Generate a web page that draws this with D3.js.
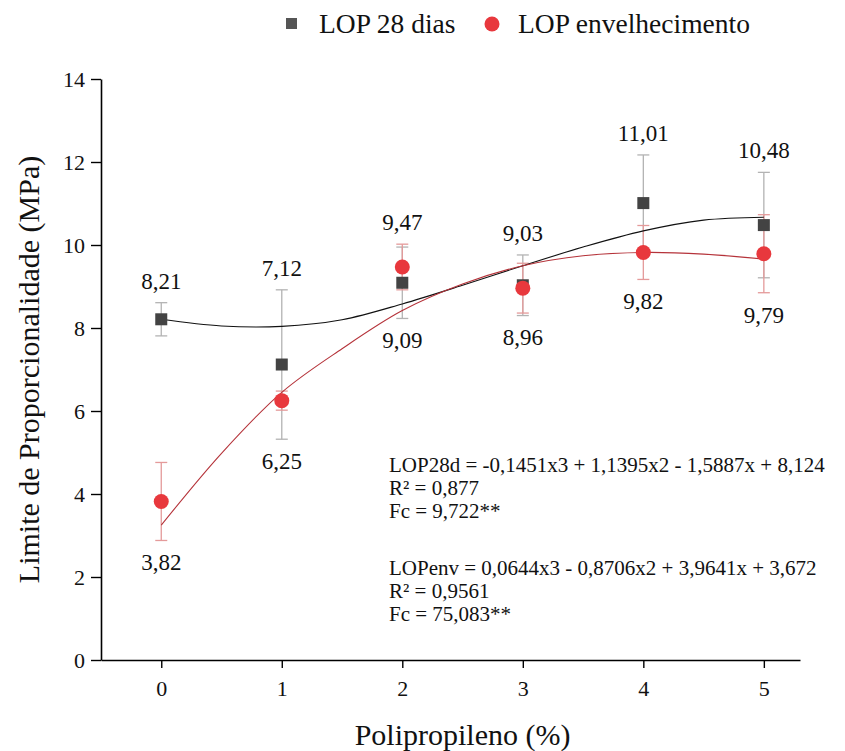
<!DOCTYPE html>
<html>
<head>
<meta charset="utf-8">
<script src="https://cdn.jsdelivr.net/npm/d3@7"></script>
<style>
  html, body { margin: 0; padding: 0; background: #fff; }
  svg text { font-family: "Liberation Serif", "Times New Roman", serif; }
</style>
</head>
<body>
<svg id="chart" width="845" height="751"></svg>
<script>
// Polypropylene content (%)
const pp = [0, 1, 2, 3, 4, 5];

// LOP after 28 days (MPa) and its standard deviation
const lop28 = [8.21, 7.12, 9.09, 9.03, 11.01, 10.48];
const lop28Err = [0.40, 1.80, 0.86, 0.73, 1.16, 1.27];
const lop28Side = ["above", "above", "below", "above", "above", "above"];

// LOP after ageing (MPa) and its standard deviation
const lopEnv = [3.82, 6.25, 9.47, 8.96, 9.82, 9.79];
const lopEnvErr = [0.94, 0.23, 0.55, 0.60, 0.65, 0.94];
const lopEnvSide = ["below", "below", "above", "below", "below", "below"];

// Trend lines, sampled every 0.5 % of polypropylene
const trendX = [0, 0.5, 1, 1.5, 2, 2.5, 3, 3.5, 4, 4.5, 5];
const trend28 = [8.21, 8.05, 8.04, 8.20, 8.58, 9.03, 9.50, 9.95, 10.34, 10.60, 10.67];
const trendEnv = [3.25, 4.98, 6.45, 7.50, 8.42, 9.06, 9.50, 9.74, 9.82, 9.78, 9.66];

const yTicks = [0, 2, 4, 6, 8, 10, 12, 14];

const eqLines28 = ["LOP28d = -0,1451x3 + 1,1395x2 - 1,5887x + 8,124", "R² = 0,877", "Fc = 9,722**"];
const eqLinesEnv = ["LOPenv = 0,0644x3 - 0,8706x2 + 3,9641x + 3,672", "R² = 0,9561", "Fc = 75,083**"];

const SERIF = "'Liberation Serif', 'Times New Roman', serif";
const fmt = v => v.toFixed(2).replace(".", ",");

const svg = d3.select("#chart");
const x = d3.scaleLinear().domain([-0.5, 5.3]).range([101, 800]);
const y = d3.scaleLinear().domain([0, 14]).range([660, 79]);

// Axes
const xAxis = svg.append("g").attr("transform", "translate(0,660)")
  .call(d3.axisBottom(x).tickValues(pp).tickFormat(d3.format("d"))
    .tickSize(8).tickPadding(12).tickSizeOuter(0));
const yAxis = svg.append("g").attr("transform", "translate(101,0)")
  .call(d3.axisLeft(y).tickValues(yTicks).tickFormat(d3.format("d"))
    .tickSize(10).tickPadding(6).tickSizeOuter(0));
[xAxis, yAxis].forEach(g => {
  g.attr("font-family", SERIF);
  g.select(".domain").attr("stroke", "#000").attr("stroke-width", 1.6);
  g.selectAll(".tick line").attr("stroke", "#000").attr("stroke-width", 1.4);
  g.selectAll(".tick text").attr("fill", "#111")
    .style("font-family", SERIF).style("font-size", "22px");
});
yAxis.selectAll(".tick text").attr("dy", "0.34em");

// Axis titles
svg.append("text").attr("x", x(2.5)).attr("y", 745).attr("text-anchor", "middle")
  .style("font-family", SERIF).style("font-size", "30px").attr("fill", "#111")
  .text("Polipropileno (%)");
svg.append("text").attr("transform", `translate(39,${(y(0) + y(14)) / 2}) rotate(-90)`)
  .attr("text-anchor", "middle").style("font-family", SERIF).style("font-size", "30px")
  .attr("fill", "#111").text("Limite de Proporcionalidade (MPa)");

// Error bars
const cap = 6;
function errorBars(vals, errs, color) {
  const g = svg.append("g").attr("stroke", color).attr("stroke-width", 1.3).attr("fill", "none");
  pp.forEach((p, i) => {
    const cx = x(p), t = y(vals[i] + errs[i]), b = y(vals[i] - errs[i]);
    g.append("line").attr("x1", cx).attr("x2", cx).attr("y1", t).attr("y2", b);
    g.append("line").attr("x1", cx - cap).attr("x2", cx + cap).attr("y1", t).attr("y2", t);
    g.append("line").attr("x1", cx - cap).attr("x2", cx + cap).attr("y1", b).attr("y2", b);
  });
}
errorBars(lop28, lop28Err, "#b3b3b3");
errorBars(lopEnv, lopEnvErr, "#e49a9a");

// Trend lines
const line = d3.line().x(d => x(d[0])).y(d => y(d[1])).curve(d3.curveCatmullRom.alpha(0.5));
svg.append("path").datum(trendX.map((v, i) => [v, trend28[i]]))
  .attr("d", line).attr("fill", "none").attr("stroke", "#111").attr("stroke-width", 1.1);
svg.append("path").datum(trendX.map((v, i) => [v, trendEnv[i]]))
  .attr("d", line).attr("fill", "none").attr("stroke", "#b5333a").attr("stroke-width", 1.1);

// Markers
const sq = 12;
svg.append("g").selectAll("rect").data(pp).join("rect")
  .attr("x", p => x(p) - sq / 2).attr("y", (p, i) => y(lop28[i]) - sq / 2)
  .attr("width", sq).attr("height", sq).attr("fill", "#434343");
svg.append("g").selectAll("circle").data(pp).join("circle")
  .attr("cx", p => x(p)).attr("cy", (p, i) => y(lopEnv[i])).attr("r", 7.5)
  .attr("fill", "#e8383d");

// Value labels, placed clear of all error bars at each position
const gap = 22;
function valueLabels(vals, sides) {
  svg.append("g").selectAll("text").data(pp).join("text")
    .attr("x", p => x(p))
    .attr("y", (p, i) => {
      const top = Math.min(y(lop28[i] + lop28Err[i]), y(lopEnv[i] + lopEnvErr[i]));
      const bot = Math.max(y(lop28[i] - lop28Err[i]), y(lopEnv[i] - lopEnvErr[i]));
      return sides[i] === "above" ? top - gap : bot + gap;
    })
    .attr("dy", "0.34em").attr("text-anchor", "middle")
    .style("font-family", SERIF).style("font-size", "23px").attr("fill", "#111")
    .text((p, i) => fmt(vals[i]));
}
valueLabels(lop28, lop28Side);
valueLabels(lopEnv, lopEnvSide);

// Regression equations
function eqBlock(lines, y0) {
  svg.append("g").selectAll("text").data(lines).join("text")
    .attr("x", 389).attr("y", (d, i) => y0 + i * 23)
    .style("font-family", SERIF).style("font-size", "21px").attr("fill", "#111").text(d => d);
}
eqBlock(eqLines28, 472);
eqBlock(eqLinesEnv, 575);

// Legend
const leg = svg.append("g");
leg.append("rect").attr("x", 286).attr("y", 18).attr("width", 11).attr("height", 11).attr("fill", "#555");
leg.append("text").attr("x", 319).attr("y", 33).style("font-family", SERIF).style("font-size", "27.5px")
  .attr("fill", "#111").text("LOP 28 dias");
leg.append("circle").attr("cx", 492).attr("cy", 24).attr("r", 7.5).attr("fill", "#e8383d");
leg.append("text").attr("x", 518).attr("y", 33).style("font-family", SERIF).style("font-size", "27.5px")
  .attr("fill", "#111").text("LOP envelhecimento");
</script>
</body>
</html>
